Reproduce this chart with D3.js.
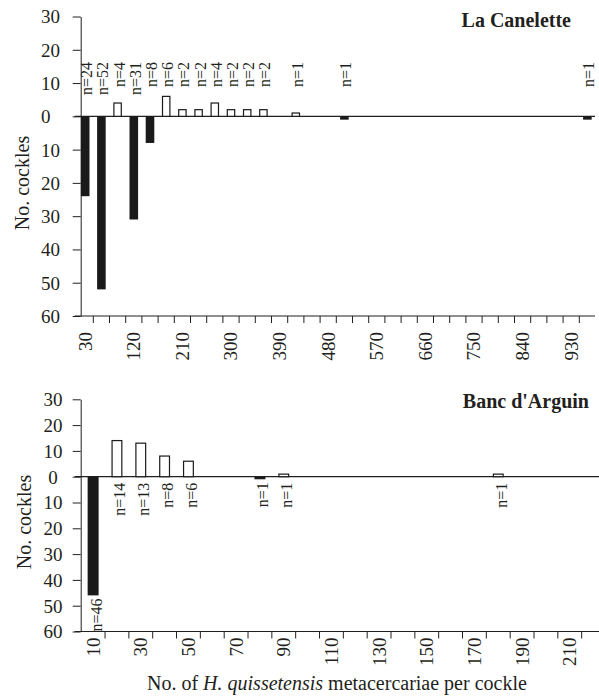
<!DOCTYPE html>
<html><head><meta charset="utf-8">
<script src="https://cdn.jsdelivr.net/npm/d3@7"></script>
<style>
html,body{margin:0;padding:0;background:#fff;}
svg text{font-family:"Liberation Serif","Times New Roman",serif;fill:#231f20;}
</style></head>
<body><svg id="chart" width="599" height="696"></svg>
<script>
// ---------- DATA ----------
// Top panel: La Canelette (bins of 30 metacercariae)
const topBins = [30,60,90,120,150,180,210,240,270,300,330,360,390,420,450,480,510,540,570,600,630,660,690,720,750,780,810,840,870,900,930,960];
const topTickLabels = [30,120,210,300,390,480,570,660,750,840,930];
const topBlackBins = [30,60,120,150,510,960];
const topBlackCounts = [24,52,31,8,1,1];
const topWhiteBins = [90,180,210,240,270,300,330,360,420];
const topWhiteCounts = [4,6,2,2,4,2,2,2,1];
// Bottom panel: Banc d'Arguin (bins of 10 metacercariae)
const botBins = [10,20,30,40,50,60,70,80,90,100,110,120,130,140,150,160,170,180,190,200,210,220];
const botTickLabels = [10,30,50,70,90,110,130,150,170,190,210];
const botBlackBins = [10,80];
const botBlackCounts = [46,1];
const botWhiteBins = [20,30,40,50,90,180];
const botWhiteCounts = [14,13,8,6,1,1];
const yTicks = [30,20,10,0,-10,-20,-30,-40,-50,-60];

const svg = d3.select("#chart");
const INK = "#231f20";

function panel(cfg){
  const g = svg.append("g");
  const x = d3.scaleBand().domain(cfg.bins).range(cfg.xRange).padding(0);
  const y = d3.scaleLinear().domain([-60,30]).range(cfg.yRange);
  const bw = x.bandwidth()*cfg.barFrac;
  const cx = b => x(b) + x.bandwidth()/2;

  // y axis
  const ya = g.append("g").attr("transform",`translate(${cfg.axisX},0)`)
    .call(d3.axisLeft(y).tickValues(yTicks).tickFormat(d=>Math.abs(d)).tickSize(8).tickSizeOuter(0));
  ya.select(".domain").attr("stroke",INK);
  ya.selectAll(".tick line").attr("stroke",INK);
  ya.selectAll(".tick text").attr("font-size",19).attr("dy","0.34em")
    .attr("text-anchor",cfg.yAnchor).attr("x",cfg.yLabelX - cfg.axisX);

  // zero line
  g.append("line").attr("x1",cfg.axisX-6).attr("x2",cfg.lineEnd)
    .attr("y1",y(0)).attr("y2",y(0)).attr("stroke",INK).attr("stroke-width",1.2);

  // x axis (bottom) : labels centred on categories, ticks on category boundaries
  const xa = g.append("g").attr("transform",`translate(0,${y(-60)})`)
    .call(d3.axisBottom(x).tickValues(cfg.tickLabels).tickSize(0).tickSizeOuter(0));
  xa.select(".domain").remove();
  xa.selectAll(".tick text").attr("font-size",19)
    .attr("transform","rotate(-90)").attr("text-anchor","end")
    .attr("x",-cfg.xLabelOff).attr("y",0).attr("dy","0.34em");
  g.append("line").attr("x1",cfg.axisX-6).attr("x2",cfg.lineEnd)
    .attr("y1",y(-60)).attr("y2",y(-60)).attr("stroke",INK).attr("stroke-width",1.2);
  g.append("g").selectAll("line").data(cfg.bins.slice(0,-1)).join("line")
    .attr("x1",b=>x(b)+x.bandwidth()).attr("x2",b=>x(b)+x.bandwidth())
    .attr("y1",y(-60)).attr("y2",y(-60)+7).attr("stroke",INK);

  // black bars (downwards)
  g.append("g").selectAll("rect").data(cfg.blackBins.map((b,i)=>({b,v:cfg.blackCounts[i]}))).join("rect")
    .attr("x",d=>cx(d.b)-bw/2).attr("width",bw)
    .attr("y",y(0)).attr("height",d=>y(-d.v)-y(0)).attr("fill","#1a1a1a");
  // white bars (upwards)
  g.append("g").selectAll("rect").data(cfg.whiteBins.map((b,i)=>({b,v:cfg.whiteCounts[i]}))).join("rect")
    .attr("x",d=>cx(d.b)-bw/2+0.6).attr("width",bw-1.2)
    .attr("y",d=>y(d.v)).attr("height",d=>y(0)-y(d.v))
    .attr("fill","#fff").attr("stroke","#1a1a1a").attr("stroke-width",1.2);

  // n= labels
  const labs = cfg.blackBins.map((b,i)=>({b,v:cfg.blackCounts[i],black:true}))
    .concat(cfg.whiteBins.map((b,i)=>({b,v:cfg.whiteCounts[i],black:false})));
  g.append("g").selectAll("text").data(labs).join("text")
    .attr("font-size",16).attr("text-anchor","end").attr("dy","0.34em")
    .attr("transform",d=>`translate(${cx(d.b)+cfg.nShift},${cfg.nY(d,y)}) rotate(-90)`)
    .text(d=>"n="+d.v);

  // y title
  g.append("text").attr("font-size",20).attr("text-anchor","middle")
    .attr("transform",`translate(${cfg.yTitleX},${cfg.yTitleY}) rotate(-90)`).text("No. cockles");
  // panel title
  g.append("text").attr("font-size",20).attr("font-weight","bold").attr("text-anchor","end")
    .attr("x",cfg.titleX).attr("y",cfg.titleY).text(cfg.title);
}

panel({
  bins: topBins, tickLabels: topTickLabels,
  blackBins: topBlackBins, blackCounts: topBlackCounts,
  whiteBins: topWhiteBins, whiteCounts: topWhiteCounts,
  xRange:[77.1,595.5], yRange:[316,16.5], axisX:80.7, lineEnd:595,
  barFrac:0.53, yAnchor:"start", yLabelX:41, xLabelOff:16,
  nShift:1.5, nY:(d,y)=>62,
  yTitleX:29, yTitleY:183, title:"La Canelette", titleX:571, titleY:27
});
panel({
  bins: botBins, tickLabels: botTickLabels,
  blackBins: botBlackBins, blackCounts: botBlackCounts,
  whiteBins: botWhiteBins, whiteCounts: botWhiteCounts,
  xRange:[81.2,605.5], yRange:[631.5,399.3], axisX:80.7, lineEnd:599,
  barFrac:0.46, yAnchor:"middle", yLabelX:53, xLabelOff:6,
  nShift:3, nY:(d,y)=> d.black ? y(-d.v)+3 : y(0)+6,
  yTitleX:31, yTitleY:522, title:"Banc d'Arguin", titleX:589, titleY:408
});

// x axis title
const xt = svg.append("text").attr("font-size",20).attr("x",147).attr("y",690);
xt.append("tspan").text("No. of ");
xt.append("tspan").attr("font-style","italic").text("H. quissetensis");
xt.append("tspan").text(" metacercariae per cockle");
</script></body></html>
